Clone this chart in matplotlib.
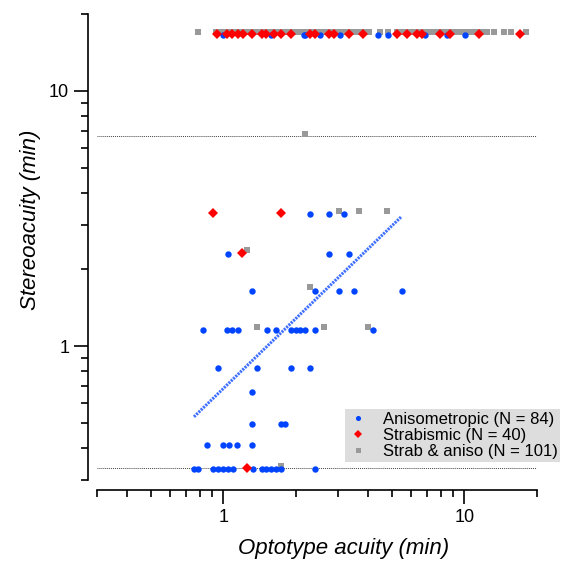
import numpy as np
import matplotlib
matplotlib.use('Agg')
import matplotlib.pyplot as plt
from matplotlib.ticker import LogLocator, NullFormatter, FixedLocator, FixedFormatter

plt.rcParams['font.family'] = ['Liberation Sans', 'DejaVu Sans']

# Anisometropic (blue)
aniso_x = [1.0, 1.580, 2.154, 2.18, 2.512, 3.043, 4.370, 4.810, 6.879, 8.47, 10.10,
		   2.298, 2.757, 3.162,
		   1.046, 2.757, 3.318,
		   1.317, 2.394, 3.022, 3.470, 5.500,
		   0.828, 1.042, 1.093, 1.147, 1.515, 1.658, 1.902, 1.995, 2.087, 2.190, 2.394, 4.165,
		   0.953, 1.376, 1.902, 2.289,
		   1.321,
		   1.317, 1.740, 1.812,
		   0.858, 1.0, 1.059, 1.144, 1.321,
		   0.757, 0.789, 0.911, 0.953, 0.997, 1.046, 1.097, 1.325, 1.444, 1.511, 1.585, 1.658, 1.740, 2.394]
aniso_y = [16.67] * 11 + [3.33] * 3 + [2.33] * 3 + [1.67] * 5 + [1.17] * 12 + \
		  [0.833] * 4 + [0.667] + [0.5] * 3 + [0.417] * 5 + [0.333] * 14

# Strabismic (red)
strab_x = [0.947, 1.036, 1.093, 1.147, 1.203, 1.317, 1.444, 1.506, 1.631, 1.740, 1.915,
		   2.282, 2.394, 2.747, 2.882, 3.318, 3.805, 5.244, 5.770, 6.354, 6.665, 7.943,
		   8.685, 11.47, 17.0,
		   0.909, 1.740, 1.200, 1.255]
strab_y = [16.67] * 25 + [3.33, 3.33, 2.33, 0.333]

# Strab & aniso (gray)
both_x = [0.787, 0.935, 0.972, 1.019, 1.059, 1.101, 1.155, 1.212, 1.259, 1.321, 1.372,
		  1.440, 1.511, 1.570, 1.647, 1.728, 1.813, 1.884, 1.976, 2.074, 2.154, 2.239,
		  2.349, 2.465, 2.561, 2.687, 2.792, 2.929, 3.073, 3.224, 3.350, 3.514, 3.687,
		  3.869, 4.019, 4.467, 4.825, 5.258, 5.464, 5.732, 6.015, 6.310, 6.557, 6.879,
		  7.217, 7.499, 7.868, 8.254, 8.577, 8.999, 9.441, 9.810, 10.29, 10.80, 11.33,
		  11.89, 12.35, 13.21, 14.54, 15.55, 17.96,
		  2.175,
		  3.022, 3.641, 4.792,
		  1.259,
		  2.289,
		  1.376, 2.628, 3.981,
		  1.740]
both_y = [16.67] * 61 + [6.67] + [3.33] * 3 + [2.33] + [1.67] + [1.17] * 3 + [0.333]

# regression fit (anisometropic)
fit_x = [0.757, 5.48]
fit_y = [0.53, 3.22]

ref_levels = [6.67, 0.333]

legend_labels = ['Anisometropic (N = 84)', 'Strabismic (N = 40)', 'Strab & aniso (N = 101)']

fig = plt.figure(figsize = (5.66, 5.62), dpi = 100)
ax = fig.add_axes([0.1714, 0.146, 0.7774, 0.829])

for level in ref_levels:

	ax.axhline(level, color = '#444444', lw = 0.7, ls = (0, (1, 1)), zorder = 1)

ax.plot(fit_x, fit_y, color = '#3f6fff', lw = 2.2, ls = (0, (0.7, 0.35)), zorder = 2)

# small vertical nudges so overlapping groups stay visible
ax.plot(both_x, np.array(both_y) * 1.02, 's', color = '#999999', ms = 4.5,
		mew = 0, label = legend_labels[2], zorder = 3)
ax.plot(aniso_x, np.array(aniso_y) * 0.99, 'o', color = '#0044ff', ms = 4.6,
		mew = 0, label = legend_labels[0], zorder = 4)
ax.plot(strab_x, strab_y, 'D', color = '#ff0000', ms = 5.2,
		mew = 0, label = legend_labels[1], zorder = 5)

ax.set_xscale('log')
ax.set_yscale('log')
ax.set_xlim(0.3, 20)
ax.set_ylim(0.3, 20)

for axis in [ax.xaxis, ax.yaxis]:

	axis.set_major_locator(FixedLocator([1, 10]))
	axis.set_major_formatter(FixedFormatter(['1', '10']))
	axis.set_minor_locator(LogLocator(base = 10, subs = np.arange(2, 10)))
	axis.set_minor_formatter(NullFormatter())

ax.tick_params(which = 'major', length = 10, width = 1.2, labelsize = 13)
ax.tick_params(which = 'minor', length = 5, width = 1.2)
for lab in ax.get_xticklabels() + ax.get_yticklabels():

	lab.set_fontweight('bold')

ax.spines['top'].set_visible(False)
ax.spines['right'].set_visible(False)
ax.spines['left'].set_position(('outward', 6.5))
ax.spines['bottom'].set_position(('outward', 7.2))
ax.spines['left'].set_linewidth(1.2)
ax.spines['bottom'].set_linewidth(1.2)

ax.set_xlabel('Optotype acuity (min)', fontsize = 16, style = 'italic', labelpad = 11)
ax.set_ylabel('Stereoacuity (min)', fontsize = 16, style = 'italic', labelpad = 6)
ax.xaxis.set_label_coords(0.561, -0.125)
ax.yaxis.label.set_y(0.558)

handles, labels = ax.get_legend_handles_labels()
order = [1, 2, 0]
leg = ax.legend([handles[i] for i in order], [labels[i] for i in order],
				loc = 'lower right', bbox_to_anchor = (1.052, 0.039), borderaxespad = 0,
				fontsize = 12, frameon = True, fancybox = False, handlelength = 1.2,
				handletextpad = 0.9, labelspacing = 0.08, borderpad = 0.15,
				markerscale = 0.8)
leg.get_frame().set_facecolor('#dddddd')
leg.get_frame().set_edgecolor('none')
leg.get_frame().set_alpha(1)

fig.savefig('out.png', dpi = 100)
